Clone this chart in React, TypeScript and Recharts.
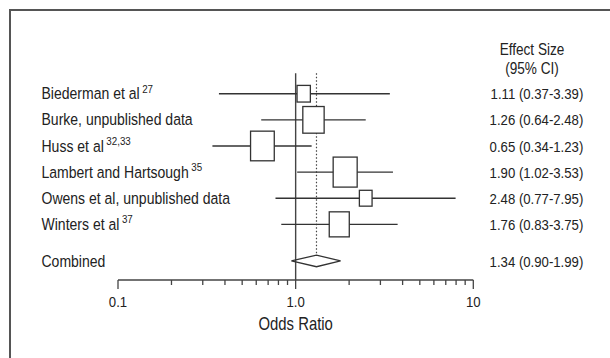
import React from 'react';
import { ComposedChart, Scatter, XAxis, YAxis } from 'recharts';

// ---- data ----
const studies = [
  'Biederman et al',
  'Burke, unpublished data',
  'Huss et al',
  'Lambert and Hartsough',
  'Owens et al, unpublished data',
  'Winters et al',
];
const superscripts = ['27', '', '32,33', '35', '', '37'];
const oddsRatio = [1.11, 1.26, 0.65, 1.9, 2.48, 1.76];
const ciLow = [0.37, 0.64, 0.34, 1.02, 0.77, 0.83];
const ciHigh = [3.39, 2.48, 1.23, 3.53, 7.95, 3.75];
const weights = [7.6, 19.5, 24.1, 24.7, 6.9, 17.2];

const combinedLabel = 'Combined';
const combinedOR = 1.34;
const combinedLow = 0.9;
const combinedHigh = 1.99;
// diamond as drawn in the figure
const diamondLow = 0.946;
const diamondMid = 1.31;
const diamondHigh = 1.79;

const xTicks = [0.1, 0.2, 0.3, 0.4, 0.5, 0.6, 0.7, 0.8, 0.9, 1, 2, 3, 4, 5, 6, 7, 8, 9, 10];
const majorTicks = [0.1, 1, 10];
const majorTickLabels = ['0.1', '1.0', '10'];

// ---- layout ----
const FONT = "'Liberation Sans', Arial, Helvetica, sans-serif";
const SX = 0.85;
const TEXT = '#222';
const INK = '#333';
const rowPos = studies.map((_, i) => i + 1);
const combinedPos = 7.4;
const yMax = 8.13;
const diamondHalf = 0.222;

const fmt = (v: number) => v.toFixed(2);
const effectText = studies.map(
  (_, i) => `${fmt(oddsRatio[i])} (${fmt(ciLow[i])}-${fmt(ciHigh[i])})`
);
const combinedText = `${fmt(combinedOR)} (${fmt(combinedLow)}-${fmt(combinedHigh)})`;

const boxData = studies.map((_, i) => ({ x: oddsRatio[i], y: rowPos[i], w: weights[i] }));
const ciData = studies.map((_, i) => [
  { x: ciLow[i], y: rowPos[i] },
  { x: ciHigh[i], y: rowPos[i] },
]);
const diamondData = [
  { x: diamondLow, y: combinedPos },
  { x: diamondMid, y: combinedPos - diamondHalf },
  { x: diamondHigh, y: combinedPos },
  { x: diamondMid, y: combinedPos + diamondHalf },
  { x: diamondLow, y: combinedPos },
];
const nullLine = [
  { x: 1, y: 0.22 },
  { x: 1, y: yMax },
];
const pooledLine = [
  { x: diamondMid, y: 0.22 },
  { x: diamondMid, y: combinedPos - diamondHalf },
];

const NText = (props: any) => {
  const { x, y, anchor = 'start', size, children } = props;
  return (
    <text
      transform={`translate(${x},${y}) scale(${SX},1)`}
      textAnchor={anchor}
      fontFamily={FONT}
      fontSize={size}
      fill={TEXT}
    >
      {children}
    </text>
  );
};

const Empty = () => <g />;

const Box = (props: any) => {
  const { cx, cy, payload } = props;
  const w = 4.83 * Math.sqrt(payload.w);
  const h = w * 1.25;
  return (
    <rect x={cx - w / 2} y={cy - h / 2} width={w} height={h} fill="#fff" stroke={INK} strokeWidth={1.3} />
  );
};

const findRow = (v: number) => rowPos.findIndex((r) => Math.abs(r - v) < 1e-6);

const LeftTick = (props: any) => {
  const { y, payload } = props;
  const i = findRow(payload.value);
  const label = i >= 0 ? studies[i] : combinedLabel;
  const sup = i >= 0 ? superscripts[i] : '';
  return (
    <NText x={41.5} y={y + 5.6} size={16.5}>
      {label}
      {sup ? (
        <tspan dx={3} dy={-6.5} fontSize={11.5}>
          {sup}
        </tspan>
      ) : null}
    </NText>
  );
};

const RightTick = (props: any) => {
  const { y, payload } = props;
  const i = findRow(payload.value);
  const label = i >= 0 ? effectText[i] : combinedText;
  return (
    <NText x={583.3} y={y + 5.6} anchor="end" size={15.5}>
      {label}
    </NText>
  );
};

const XTick = (props: any) => {
  const { x, y, payload } = props;
  const v = payload.value;
  const mi = majorTicks.findIndex((m) => Math.abs(m - v) < 1e-9);
  const major = mi >= 0;
  return (
    <g>
      <line x1={x} x2={x} y1={y} y2={y + (major ? 9 : 5)} stroke="#444" strokeWidth={1.3} />
      {major ? (
        <NText x={x} y={y + 27} anchor="middle" size={15.5}>
          {majorTickLabels[mi]}
        </NText>
      ) : null}
    </g>
  );
};

export default function App() {
  return (
    <div style={{ position: 'absolute', left: 0, top: 0, width: 610, height: 358, overflow: 'hidden', background: '#fff' }}>
      <div
        style={{
          position: 'absolute',
          left: 9,
          top: 9,
          width: 700,
          height: 500,
          borderLeft: '2px solid #555',
          borderTop: '2px solid #555',
          boxSizing: 'border-box',
        }}
      />
      <div style={{ position: 'absolute', left: 0, top: 0 }}>
        <ComposedChart width={610} height={358} margin={{ top: 67.6, right: 0, bottom: 18, left: 0 }}>
          <XAxis
            dataKey="x"
            type="number"
            scale="log"
            domain={[0.1, 10]}
            allowDataOverflow
            ticks={xTicks}
            interval={0}
            tick={<XTick />}
            tickLine={false}
            tickSize={0}
            tickMargin={0}
            height={60}
            axisLine={{ stroke: '#444', strokeWidth: 1.3 }}
          />
          <YAxis
            yAxisId="l"
            dataKey="y"
            type="number"
            domain={[0, yMax]}
            reversed
            allowDataOverflow
            ticks={[...rowPos, combinedPos]}
            interval={0}
            tick={<LeftTick />}
            tickLine={false}
            axisLine={false}
            width={118}
          />
          <YAxis
            yAxisId="r"
            orientation="right"
            dataKey="y"
            type="number"
            domain={[0, yMax]}
            reversed
            allowDataOverflow
            ticks={[...rowPos, combinedPos]}
            interval={0}
            tick={<RightTick />}
            tickLine={false}
            axisLine={false}
            width={136.7}
          />
          <Scatter
            yAxisId="l"
            data={nullLine}
            line={{ stroke: '#444', strokeWidth: 1.4 }}
            shape={<Empty />}
            isAnimationActive={false}
          />
          <Scatter
            yAxisId="l"
            data={pooledLine}
            line={{ stroke: '#444', strokeWidth: 1.2, strokeDasharray: '1.5 2' }}
            shape={<Empty />}
            isAnimationActive={false}
          />
          {ciData.map((d, i) => (
            <Scatter
              key={'ci' + i}
              yAxisId="l"
              data={d}
              line={{ stroke: INK, strokeWidth: 1.3 }}
              shape={<Empty />}
              isAnimationActive={false}
            />
          ))}
          <Scatter
            yAxisId="l"
            data={diamondData}
            line={{ stroke: INK, strokeWidth: 1.3 }}
            shape={<Empty />}
            isAnimationActive={false}
          />
          <Scatter yAxisId="l" data={boxData} shape={<Box />} isAnimationActive={false} />
        </ComposedChart>
      </div>
      <svg width={610} height={358} style={{ position: 'absolute', left: 0, top: 0, pointerEvents: 'none' }}>
        <NText x={532} y={54.5} anchor="middle" size={16}>
          Effect Size
        </NText>
        <NText x={532} y={74} anchor="middle" size={16}>
          (95% CI)
        </NText>
        <NText x={295.7} y={329.5} anchor="middle" size={17.5}>
          Odds Ratio
        </NText>
      </svg>
    </div>
  );
}
